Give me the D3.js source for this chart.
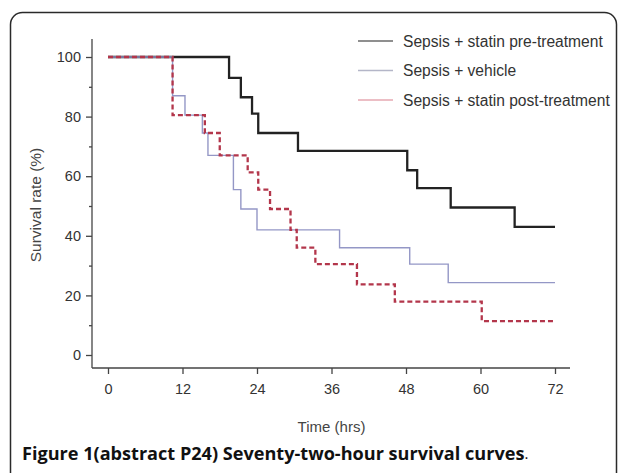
<!DOCTYPE html>
<html>
<head>
<meta charset="utf-8">
<script src="https://cdn.jsdelivr.net/npm/d3@7"></script>
<style>
  html, body { margin: 0; padding: 0; background: #fff; }
  svg { display: block; }
</style>
</head>
<body>
<svg id="chart" width="627" height="473"></svg>
<script>
// Kaplan–Meier step data: times (hrs) at which survival changes, and the survival (%) from that time on
const preTimes  = [0, 19.5, 21.4, 23.2, 24.2, 30.6, 48.2, 49.8, 55.2, 65.5, 72];
const preValues = [100, 93, 86.5, 81, 74.5, 68.5, 62, 56, 49.5, 43, 43];

const vehTimes  = [0, 10.4, 12.4, 15.2, 16.1, 20.2, 21.4, 24.0, 37.3, 48.6, 54.8, 72];
const vehValues = [100, 87, 80.5, 74.5, 67, 55.5, 49, 42, 36, 30.5, 24.3, 24.3];

const postTimes  = [0, 10.4, 15.6, 18.0, 22.5, 24.2, 26.1, 29.4, 30.4, 33.4, 40.1, 46.2, 60.2, 72];
const postValues = [100, 80.5, 74.5, 67, 61.3, 55.5, 49, 42, 36, 30.5, 23.7, 17.9, 11.4, 11.4];

const seriesNames = ["Sepsis + statin pre-treatment", "Sepsis + vehicle", "Sepsis + statin post-treatment"];
const xTicks = [0, 12, 24, 36, 48, 60, 72];
const yTicks = [0, 20, 40, 60, 80, 100];
const yMinorTicks = [10, 30, 50, 70, 90];

const svg = d3.select("#chart");

// figure frame
svg.append("rect")
  .attr("x", 10.5).attr("y", 12.5)
  .attr("width", 606).attr("height", 490)
  .attr("rx", 12).attr("ry", 12)
  .attr("fill", "#fff")
  .attr("stroke", "#2a2a2a")
  .attr("stroke-width", 1.5);

const x = d3.scaleLinear().domain([0, 72]).range([108, 555]);
const y = d3.scaleLinear().domain([0, 100]).range([355, 57]);

const axisX0 = 92;   // y-axis position
const axisY0 = 368;  // x-axis position

const tickFont = "'Liberation Sans', Arial, sans-serif";

// y axis
const yAxis = svg.append("g")
  .attr("transform", `translate(${axisX0},0)`)
  .call(d3.axisLeft(y).tickValues(yTicks).tickSize(6).tickPadding(5).tickSizeOuter(0));
yAxis.select(".domain").remove();
const yMinor = svg.append("g")
  .attr("transform", `translate(${axisX0},0)`)
  .call(d3.axisLeft(y).tickValues(yMinorTicks).tickSize(3).tickFormat(""));
yMinor.select(".domain").remove();

// x axis
const xAxis = svg.append("g")
  .attr("transform", `translate(0,${axisY0})`)
  .call(d3.axisBottom(x).tickValues(xTicks).tickSize(6).tickPadding(10).tickSizeOuter(0));
xAxis.select(".domain").remove();

[yAxis, yMinor, xAxis].forEach(g => {
  g.selectAll("line").attr("stroke", "#444").attr("stroke-width", 1.3);
  g.selectAll("text")
    .attr("fill", "#333")
    .style("font-family", tickFont)
    .style("font-size", "14.5px");
});

// axis lines, extended past the data range
svg.append("line")
  .attr("x1", axisX0).attr("x2", axisX0)
  .attr("y1", 39).attr("y2", axisY0)
  .attr("stroke", "#444").attr("stroke-width", 1.3);
svg.append("line")
  .attr("x1", axisX0).attr("x2", 570)
  .attr("y1", axisY0).attr("y2", axisY0)
  .attr("stroke", "#444").attr("stroke-width", 1.3);

// axis titles
svg.append("text")
  .attr("transform", `translate(35,205) rotate(-90)`)
  .attr("text-anchor", "middle")
  .attr("dominant-baseline", "central")
  .attr("fill", "#444")
  .style("font-family", tickFont)
  .style("font-size", "15.5px")
  .text("Survival rate (%)");

svg.append("text")
  .attr("x", x(36)).attr("y", 426)
  .attr("text-anchor", "middle")
  .attr("dominant-baseline", "central")
  .attr("fill", "#444")
  .style("font-family", tickFont)
  .style("font-size", "15px")
  .text("Time (hrs)");

// survival curves
const step = d3.line()
  .x(d => x(d[0]))
  .y(d => y(d[1]))
  .curve(d3.curveStepAfter);

const toPts = (ts, vs) => ts.map((t, i) => [t, vs[i]]);

svg.append("path")
  .datum(toPts(preTimes, preValues))
  .attr("d", step)
  .attr("fill", "none")
  .attr("stroke", "#222")
  .attr("stroke-width", 2.3);

svg.append("path")
  .datum(toPts(vehTimes, vehValues))
  .attr("d", step)
  .attr("fill", "none")
  .attr("stroke", "#9497c6")
  .attr("stroke-width", 1.4);

svg.append("path")
  .datum(toPts(postTimes, postValues))
  .attr("d", step)
  .attr("fill", "none")
  .attr("stroke", "#b3364b")
  .attr("stroke-width", 2.3)
  .attr("stroke-dasharray", "5,3");

// legend
const legendColors = ["#6a6a6a", "#b4b6c8", "#e6a8b2"];
const legend = svg.append("g");
seriesNames.forEach((name, i) => {
  const ly = 41 + i * 29.5;
  legend.append("line")
    .attr("x1", 358).attr("x2", 393)
    .attr("y1", ly).attr("y2", ly)
    .attr("stroke", legendColors[i])
    .attr("stroke-width", 1.5);
  legend.append("text")
    .attr("x", 403).attr("y", ly)
    .attr("dominant-baseline", "central")
    .attr("fill", "#333")
    .style("font-family", tickFont)
    .style("font-size", "15.6px")
    .text(name);
});

// caption: bold, slightly condensed title followed by a regular full stop
const caption = svg.append("text")
  .attr("x", 0).attr("y", 0)
  .attr("dominant-baseline", "central")
  .attr("fill", "#111")
  .style("font-family", "'Open Sans', 'Noto Sans', sans-serif");
const capMain = caption.append("tspan")
  .style("font-weight", "bold")
  .style("font-size", "17px")
  .text("Figure 1(abstract P24) Seventy-two-hour survival curves");
caption.append("tspan")
  .style("font-size", "14px")
  .text(".");
const w = capMain.node().getComputedTextLength();
caption.attr("transform", `translate(22,453) scale(${(503 / w).toFixed(4)},1)`);
</script>
</body>
</html>
